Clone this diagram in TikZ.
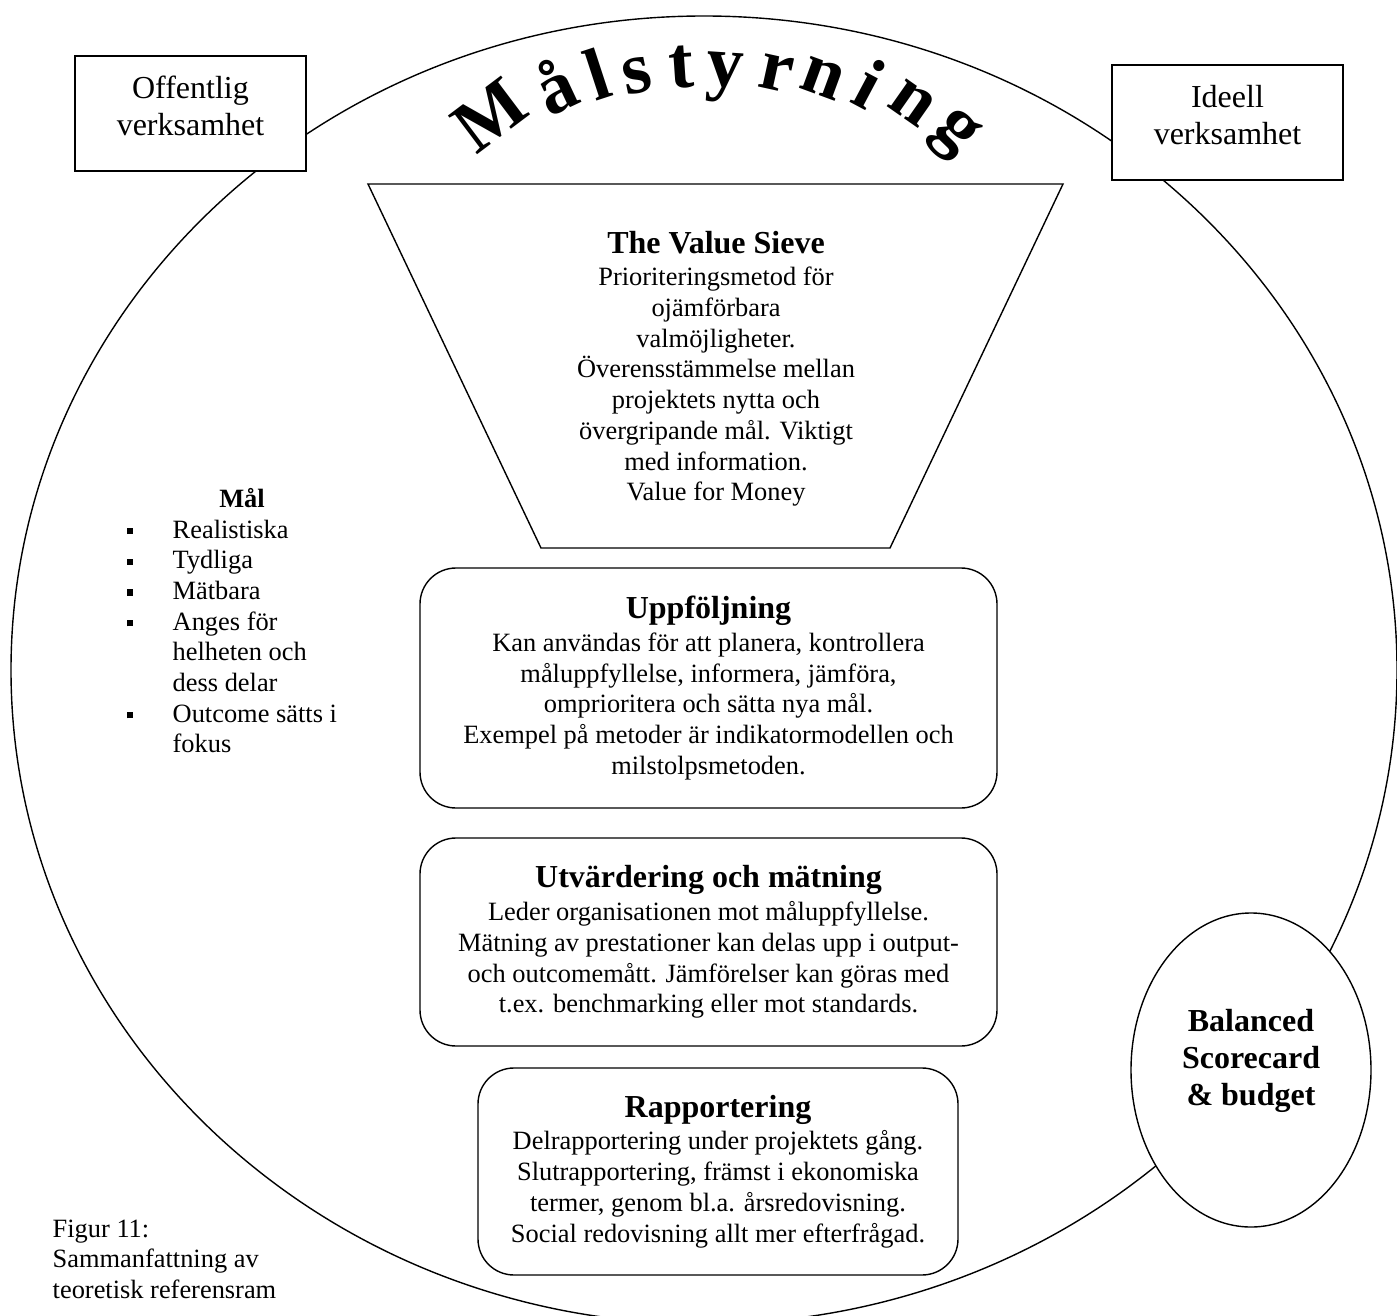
\documentclass[tikz,border=0pt]{standalone}
\usepackage{fontspec}
\setmainfont{Liberation Serif}
\usetikzlibrary{shapes.geometric}
\newcommand\blt{\makebox[23pt][l]{\rule[1.9pt]{3.2pt}{3.2pt}}}
\newcommand\indt{\hspace*{23pt}}
\newcommand\ttlfont{\fontsize{16}{18}\selectfont\bfseries}
\begin{document}
\begin{tikzpicture}[x=0.5pt,y=-0.5pt,line width=0.7pt,
  plainbox/.style={draw, fill=white, rectangle, inner sep=0pt},
  lbl/.style={align=center, inner sep=0pt, font=\fontsize{16}{18.8}\selectfont},
  roundbox/.style={draw, fill=white, rounded corners=18pt, inner sep=0pt, align=center, font=\fontsize{13.2}{15.4}\selectfont},
  body/.style={inner sep=0pt, font=\fontsize{13.2}{15.35}\selectfont},
  letter/.style={inner sep=0pt, font=\fontsize{37}{42}\selectfont\bfseries},
]
\useasboundingbox (0,0) rectangle (1397,1316);
% big circle
\draw (704,670) ellipse [x radius=693, y radius=654];
% title letters
\foreach \ch/\px/\py/\rr/\nm in {M/490/115/37/l1, å/555/86/25.2/l2, l/597/74/18.1/l3, s/637/76/11.6/l4, t/681/67/3.9/l5, y/725/78/-3.7/l6, r/776/73/-12.4/l7, n/823/78/-20.2/l8, i/870/84/-28/l9, n/912/103/-35/l10, g/953/135/-44/l11}
  \node[letter, rotate=\rr] (\nm) at (\px,\py) {\ch};
% corner boxes
\node[plainbox, minimum width=115.5pt, minimum height=57.5pt] (off) at (190.5,113.5) {};
\node[lbl] (offt) at (190.5,106) {Offentlig\\verksamhet};
\node[plainbox, minimum width=115.5pt, minimum height=57.5pt] (ide) at (1227.5,122.5) {};
\node[lbl] (idet) at (1227.5,115) {Ideell\\verksamhet};
% value sieve
\draw[fill=white] (368,184) -- (1063,184) -- (890,548) -- (541,548) -- cycle;
\node[body, align=center, anchor=north] (sieve) at (716,231)
 {{\ttlfont The Value Sieve}\\[0.6pt]
  Prioriteringsmetod för\\ ojämförbara\\ valmöjligheter.\\ Överensstämmelse mellan\\
  projektets nytta och\\ övergripande mål. Viktigt\\ med information.\\ Value for Money};
% rounded boxes
\node[roundbox, minimum width=288.5pt, minimum height=120pt] (upp) at (708.5,688)
 {{\ttlfont Uppföljning}\\[1pt]
  Kan användas för att planera, kontrollera\\ måluppfyllelse, informera, jämföra,\\
  omprioritera och sätta nya mål.\\ Exempel på metoder är indikatormodellen och\\ milstolpsmetoden.};
\node[roundbox, minimum width=288.5pt, minimum height=104pt] (utv) at (708.5,942)
 {{\ttlfont Utvärdering och mätning}\\[1pt]
  Leder organisationen mot måluppfyllelse.\\ Mätning av prestationer kan delas upp i output-\\
  och outcomemått. Jämförelser kan göras med\\ t.ex. benchmarking eller mot standards.};
\node[roundbox, minimum width=240pt, minimum height=103.5pt] (rap) at (718,1171.5)
 {{\ttlfont Rapportering}\\[1pt]
  Delrapportering under projektets gång.\\ Slutrapportering, främst i ekonomiska\\
  termer, genom bl.a. årsredovisning.\\ Social redovisning allt mer efterfrågad.};
% balanced scorecard
\node[ellipse, draw, fill=white, minimum width=120pt, minimum height=157pt, inner sep=0pt] (bsc) at (1251,1070) {};
\node[lbl, font=\fontsize{16}{18.5}\selectfont\bfseries] (bsct) at (1251,1061) {Balanced\\Scorecard\\\& budget};
% goals list
\node[body, font=\fontsize{13.2}{15.35}\selectfont\bfseries, anchor=base] (mal) at (242,507) {Mål};
\node[body, align=left, anchor=north west] (list) at (126,519)
 {\blt Realistiska\\ \blt Tydliga\\ \blt Mätbara\\ \blt Anges för\\ \indt helheten och\\
  \indt dess delar\\ \blt Outcome sätts i\\ \indt fokus};
% caption
\node[body, align=left, anchor=north west] (cap) at (52,1219)
 {Figur 11:\\ Sammanfattning av\\ teoretisk referensram};
\end{tikzpicture}
\end{document}
